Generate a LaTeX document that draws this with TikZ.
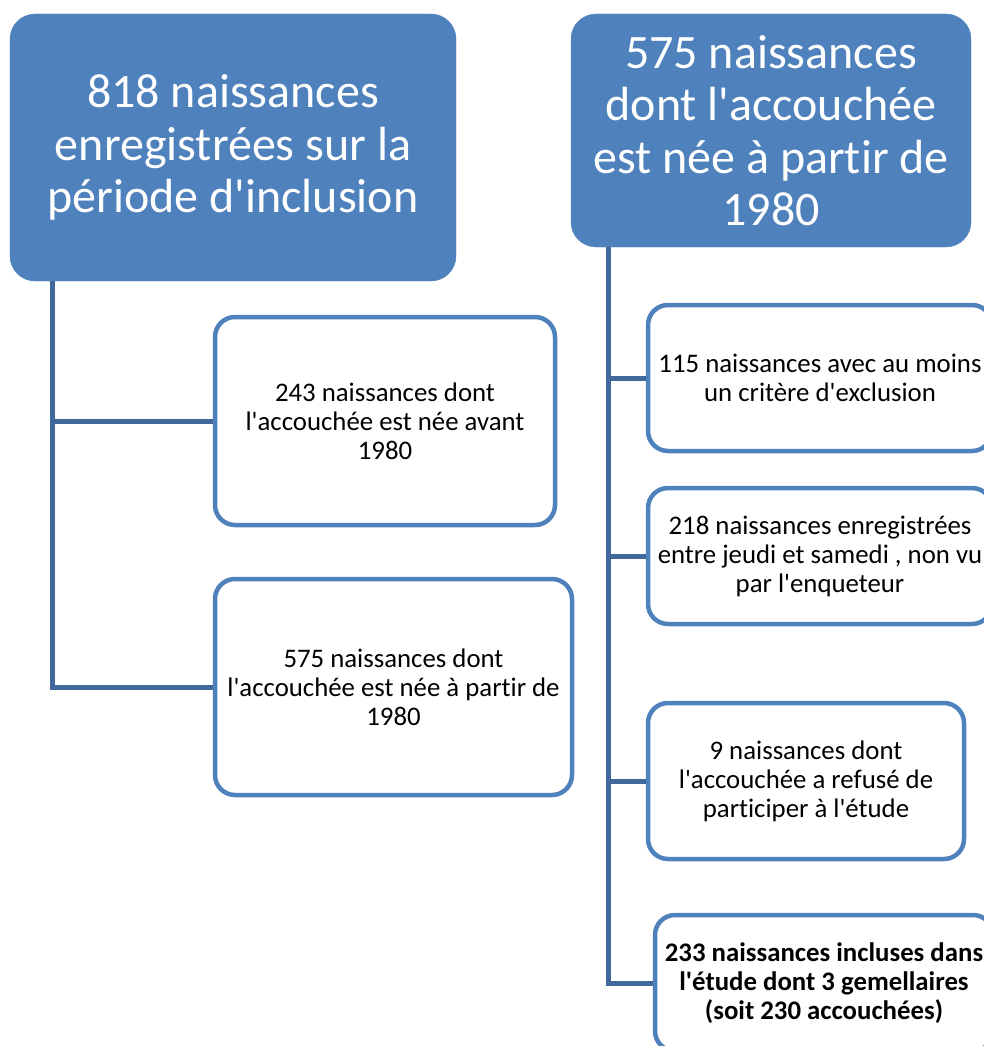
\documentclass[tikz,border=0pt]{standalone}
\usepackage{fontspec}
\setmainfont{Carlito}[Ligatures={TeXOff,NoCommon}]
\definecolor{boxblue}{HTML}{4F81BD}
\definecolor{trunkblue}{HTML}{41699C}

\begin{document}
\begin{tikzpicture}[x=1pt, y=-1pt,
    headbox/.style={fill=boxblue, draw=boxblue, rounded corners=25pt, text=white,
      align=center, inner sep=0pt, font=\fontsize{48}{52.5}\selectfont},
    itembox/.style={draw=boxblue, line width=4.5pt, fill=white, rounded corners=20pt,
      align=center, inner sep=0pt, font=\fontsize{26.8}{29}\selectfont},
    trunk/.style={draw=trunkblue, line width=5pt}]
   \clip (0,0) rectangle (984,1046);

   % left column
   \node[headbox, minimum width=446pt, minimum height=267pt] (head1) at (233,147.5)
     {818 naissances\\enregistrées sur la\\période d'inclusion};
   \node[itembox, minimum width=340pt, minimum height=208pt] (avant) at (385,421)
     {243 naissances dont\\l'accouchée est née avant\\1980};
   \node[itembox, minimum width=357pt, minimum height=216pt] (partir) at (393.5,687)
     {575 naissances dont\\l'accouchée est née à partir de\\1980};

   % right column
   \node[headbox, minimum width=400pt, minimum height=233pt] (head2) at (771,130.5)
     {575 naissances\\dont l'accouchée\\est née à partir de\\1980};
   \node[itembox, minimum width=344pt, minimum height=146pt] (exclu) at (820,378)
     {115 naissances avec au moins\\un critère d'exclusion};
   \node[itembox, minimum width=344pt, minimum height=136pt] (jeudi) at (820,556)
     {218 naissances enregistrées\\entre jeudi et samedi , non vu\\par l'enqueteur};
   \node[itembox, minimum width=316pt, minimum height=156pt] (refus) at (806,781)
     {9 naissances dont\\l'accouchée a refusé de\\participer à l'étude};
   \node[itembox, minimum width=338pt, minimum height=136pt, font=\fontsize{26.8}{29}\selectfont\bfseries] (inclus) at (824,983)
     {233 naissances incluses dans\\l'étude dont 3 gemellaires\\(soit 230 accouchées)};

   % trunks
   \coordinate (trunk1) at (52,281);
   \coordinate (trunk2) at (608,247);
   \draw[trunk] (trunk1) |- (partir.west);
   \draw[trunk] (trunk1 |- avant.west) -- (avant.west);
   \draw[trunk] (trunk2) |- (inclus.west);
   \draw[trunk] (trunk2 |- exclu.west) -- (exclu.west);
   \draw[trunk] (trunk2 |- jeudi.west) -- (jeudi.west);
   \draw[trunk] (trunk2 |- refus.west) -- (refus.west);
\end{tikzpicture}
\end{document}
